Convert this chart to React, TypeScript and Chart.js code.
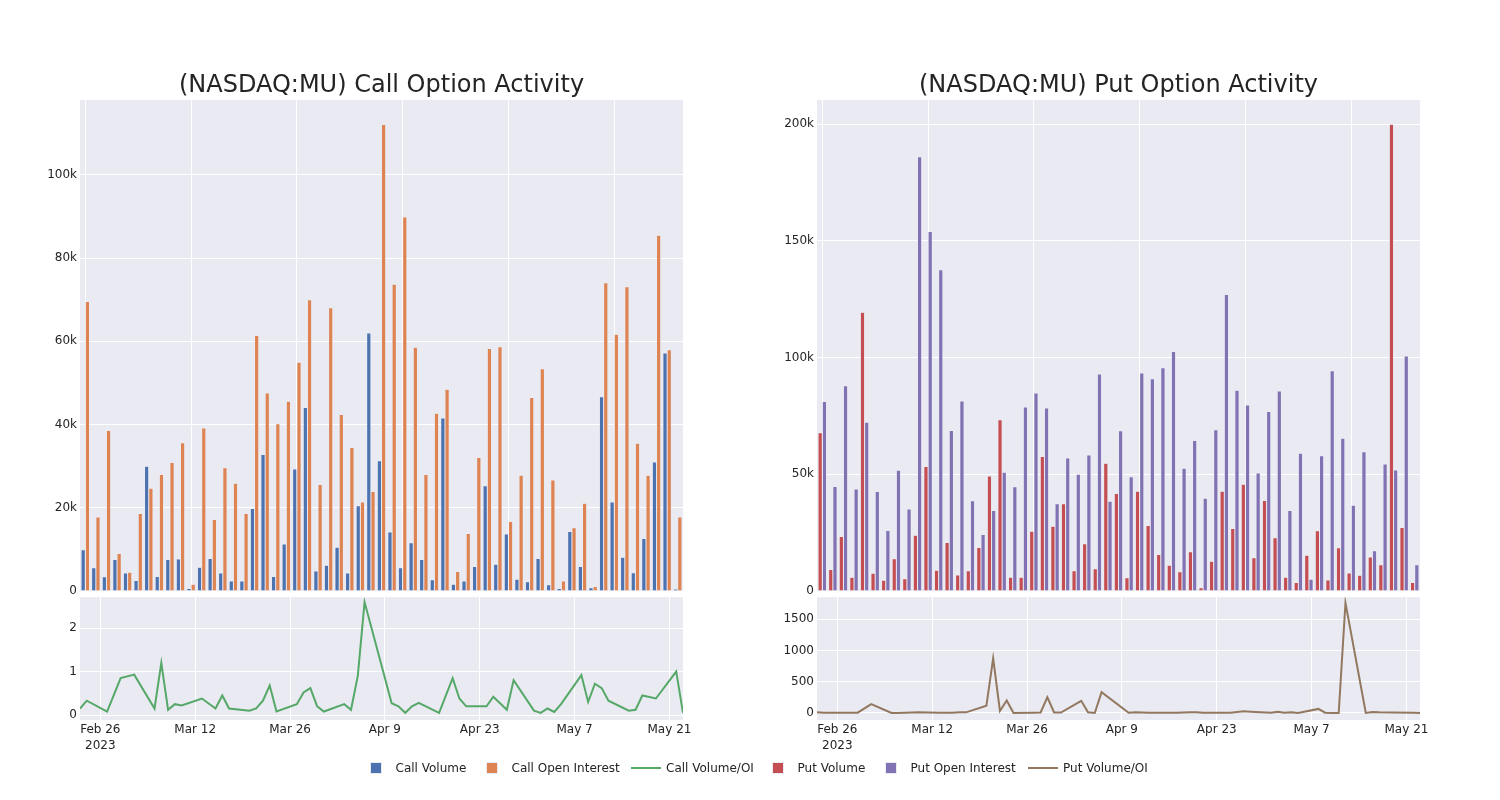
import React, { useEffect, useRef } from "react";
import { Chart, registerables } from "chart.js";

Chart.register(...registerables);

// ---------------- data ----------------
const dates = [
  "2023-02-23", "2023-02-24", "2023-02-27", "2023-03-01", "2023-03-03",
  "2023-03-06", "2023-03-07", "2023-03-08", "2023-03-09", "2023-03-10",
  "2023-03-13", "2023-03-15", "2023-03-16", "2023-03-17", "2023-03-20",
  "2023-03-21", "2023-03-22", "2023-03-23", "2023-03-24", "2023-03-27",
  "2023-03-28", "2023-03-29", "2023-03-30", "2023-03-31", "2023-04-03",
  "2023-04-04", "2023-04-05", "2023-04-06", "2023-04-10", "2023-04-11",
  "2023-04-12", "2023-04-13", "2023-04-14", "2023-04-17", "2023-04-19",
  "2023-04-20", "2023-04-21", "2023-04-24", "2023-04-25", "2023-04-27",
  "2023-04-28", "2023-05-01", "2023-05-02", "2023-05-03", "2023-05-04",
  "2023-05-05", "2023-05-08", "2023-05-09", "2023-05-10", "2023-05-11",
  "2023-05-12", "2023-05-15", "2023-05-16", "2023-05-17", "2023-05-19",
  "2023-05-22", "2023-05-23",
];

const callVolume = [
  9900, 5600, 3400, 7600, 4300, 2500, 30000, 3500, 7600, 7700,
  600, 5700, 7800, 4300, 2400, 2400, 19800, 32800, 3500, 11300,
  29300, 44100, 4800, 6200, 10500, 4300, 20500, 62000, 31300, 14200,
  5600, 11600, 7600, 2700, 41600, 1600, 2400, 5900, 25300, 6400,
  13700, 2800, 2200, 7800, 1500, 600, 14300, 5900, 800, 46700,
  21400, 8100, 4400, 12600, 31000, 57200, 500,
];

const callOpenInterest = [
  69600, 17800, 38600, 9000, 4500, 18600, 24700, 28000, 30900, 35600,
  1600, 39200, 17200, 29600, 25900, 18600, 61400, 47600, 40200, 45600,
  55000, 70000, 25600, 68100, 42400, 34500, 21400, 23900, 112100, 73700,
  89900, 58600, 28000, 42700, 48500, 4700, 13800, 32100, 58300, 58700,
  16700, 27800, 46500, 53400, 26700, 2400, 15200, 21100, 1100, 74100,
  61700, 73100, 35500, 27800, 85500, 58000, 17800,
];

const callVolumeOI = [
  0.15, 0.33, 0.08, 0.85, 0.93, 0.15, 1.2, 0.12, 0.25, 0.22,
  0.38, 0.15, 0.45, 0.15, 0.1, 0.15, 0.33, 0.68, 0.08, 0.25,
  0.52, 0.62, 0.2, 0.08, 0.25, 0.12, 0.9, 2.6, 0.27, 0.2,
  0.05, 0.2, 0.28, 0.05, 0.85, 0.38, 0.2, 0.2, 0.42, 0.12,
  0.8, 0.1, 0.05, 0.15, 0.07, 0.25, 0.92, 0.3, 0.72, 0.62,
  0.33, 0.1, 0.12, 0.45, 0.38, 1.0, 0.05,
];

const putVolume = [
  67800, 9200, 23400, 5900, 119500, 7600, 4600, 13800, 5200, 23900,
  53300, 8900, 20800, 6900, 8700, 18600, 49300, 73400, 5900, 5900,
  25600, 57600, 27700, 37400, 8700, 20300, 9500, 54700, 41800, 5700,
  42700, 28100, 15600, 11000, 8300, 16800, 1400, 12800, 42700, 26800,
  45700, 14300, 38800, 22800, 5900, 3600, 15300, 25800, 4700, 18500,
  7700, 6700, 14600, 11300, 200000, 27200, 3600,
];

const putOpenInterest = [
  81200, 44800, 88000, 43700, 72300, 42600, 25900, 51700, 35100, 186100,
  154000, 137700, 68800, 81400, 38700, 24200, 34500, 50900, 44700, 78800,
  84800, 78400, 37400, 57000, 50000, 58300, 93000, 38500, 68700, 49000,
  93400, 91000, 95700, 102600, 52600, 64500, 39700, 69100, 127100, 86000,
  79700, 50600, 76900, 85700, 34500, 59000, 5000, 58000, 94400, 65500,
  36700, 59700, 17300, 54400, 51900, 100700, 11200,
];

const putVolumeOI = [
  10, 5, 5, 5, 143, 0, 0, 5, 8, 10,
  5, 5, 10, 10, 115, 875, 32, 200, 0, 5,
  8, 252, 8, 8, 195, 12, 0, 332, 5, 10,
  8, 5, 2, 2, 10, 12, 5, 2, 5, 27,
  20, 5, 20, 5, 12, 0, 65, 5, 0, 0,
  1760, 0, 15, 10, 8, 5, 0,
];

const tickDates = ["2023-02-26", "2023-03-12", "2023-03-26", "2023-04-09", "2023-04-23", "2023-05-07", "2023-05-21"];
const tickLabels = [["Feb 26", "2023"], ["Mar 12"], ["Mar 26"], ["Apr 9"], ["Apr 23"], ["May 7"], ["May 21"]];

const callBarTicks = [0, 20000, 40000, 60000, 80000, 100000];
const putBarTicks = [0, 50000, 100000, 150000, 200000];
const callRatioTicks = [0, 1, 2];
const putRatioTicks = [0, 500, 1000, 1500];

const seriesLabels = ["Call Volume", "Call Open Interest", "Call Volume/OI", "Put Volume", "Put Open Interest", "Put Volume/OI"];

// ---------------- styles ----------------
const FONT = "'DejaVu Sans', sans-serif";
const TEXT = "rgb(36,36,36)";
const PLOT_BG = "rgb(234,234,242)";
const COLORS = {
  callVol: "rgb(76,114,176)",
  callOI: "rgb(221,132,82)",
  callRatio: "rgb(85,168,104)",
  putVol: "rgb(196,78,82)",
  putOI: "rgb(129,114,179)",
  putRatio: "rgb(147,120,96)",
};

const plotBackground = {
  id: "plotBackground",
  beforeDraw(chart: any) {
    const { ctx, chartArea } = chart;
    if (!chartArea) return;
    ctx.save();
    ctx.fillStyle = PLOT_BG;
    ctx.fillRect(chartArea.left, chartArea.top, chartArea.right - chartArea.left, chartArea.bottom - chartArea.top);
    ctx.restore();
  },
};

const dayIndex = (d: string) =>
  (Date.parse(d + "T00:00:00Z") - Date.parse(dates[0] + "T00:00:00Z")) / 86400000;

const kLabel = (v: number) => (v === 0 ? "0" : `${v / 1000}k`);

type BarSeries = { label: string; data: number[]; color: string };

function BarPanel(props: {
  left: number; top: number; width: number; height: number;
  title: string; series: BarSeries[]; yMax: number; yTicks: number[];
}) {
  const ref = useRef<HTMLCanvasElement>(null);
  useEffect(() => {
    const chart = new Chart(ref.current as HTMLCanvasElement, {
      type: "bar",
      data: {
        labels: dates,
        datasets: props.series.map((s) => ({
          label: s.label,
          data: s.data,
          backgroundColor: s.color,
          borderColor: PLOT_BG,
          borderWidth: 0.5,
          categoryPercentage: 0.8,
          barPercentage: 1,
        })),
      },
      options: {
        responsive: false,
        animation: false,
        layout: { padding: { top: 0, right: 7, bottom: 19, left: 0 } },
        plugins: {
          legend: { display: false },
          tooltip: { enabled: false },
          title: {
            display: true,
            text: props.title,
            color: TEXT,
            fullSize: false,
            font: { family: FONT, size: 24, weight: "normal" as any },
            padding: { top: 15.2, bottom: 0 },
          },
        },
        scales: {
          x: {
            offset: true,
            grid: {
              offset: false,
              drawTicks: false,
              color: (c: any) => (c.index % 10 === 0 ? "#ffffff" : "rgba(0,0,0,0)"),
            },
            border: { display: false },
            ticks: { display: false },
            afterFit: (s: any) => { s.height = 0; },
          },
          y: {
            min: 0,
            max: props.yMax,
            grid: { color: "#ffffff", drawTicks: false },
            border: { display: false },
            afterBuildTicks: (s: any) => { s.ticks = props.yTicks.map((v) => ({ value: v })); },
            ticks: {
              padding: 3,
              color: TEXT,
              font: { family: FONT, size: 12 },
              callback: (v: any) => kLabel(Number(v)),
            },
            afterFit: (s: any) => { s.width = 60; },
          },
        },
      },
      plugins: [plotBackground],
    });
    return () => chart.destroy();
  }, []);
  return (
    <canvas
      ref={ref}
      width={props.width}
      height={props.height}
      style={{ position: "absolute", left: props.left, top: props.top, width: props.width, height: props.height, display: "block" }}
    />
  );
}

function LinePanel(props: {
  left: number; top: number; width: number; height: number;
  label: string; values: number[]; color: string;
  yMin: number; yMax: number; yTicks: number[];
}) {
  const ref = useRef<HTMLCanvasElement>(null);
  useEffect(() => {
    const tickDays = tickDates.map(dayIndex);
    const chart = new Chart(ref.current as HTMLCanvasElement, {
      type: "line",
      data: {
        datasets: [
          {
            label: props.label,
            data: dates.map((d, i) => ({ x: dayIndex(d), y: props.values[i] })),
            borderColor: props.color,
            backgroundColor: props.color,
            borderWidth: 2,
            pointRadius: 0,
            tension: 0,
            fill: false,
          },
        ],
      },
      options: {
        responsive: false,
        animation: false,
        layout: { padding: { top: 10, right: 17, bottom: 0, left: 0 } },
        plugins: { legend: { display: false }, tooltip: { enabled: false } },
        scales: {
          x: {
            type: "linear",
            min: 0,
            max: dayIndex(dates[dates.length - 1]),
            grid: { color: "#ffffff", drawTicks: false },
            border: { display: false },
            afterBuildTicks: (s: any) => { s.ticks = tickDays.map((v) => ({ value: v })); },
            ticks: {
              autoSkip: false,
              maxRotation: 0,
              padding: 2,
              color: TEXT,
              font: { family: FONT, size: 12, lineHeight: 1.3 },
              callback: (v: any) => {
                const k = tickDays.indexOf(Number(v));
                return k >= 0 ? tickLabels[k] : "";
              },
            },
            afterFit: (s: any) => { s.height = 40; },
          },
          y: {
            min: props.yMin,
            max: props.yMax,
            grid: { color: "#ffffff", drawTicks: false },
            border: { display: false },
            afterBuildTicks: (s: any) => { s.ticks = props.yTicks.map((v) => ({ value: v })); },
            ticks: {
              padding: 3,
              color: TEXT,
              font: { family: FONT, size: 12 },
              callback: (v: any) => String(v),
            },
            afterFit: (s: any) => { s.width = 60; },
          },
        },
      },
      plugins: [plotBackground],
    });
    return () => chart.destroy();
  }, []);
  return (
    <canvas
      ref={ref}
      width={props.width}
      height={props.height}
      style={{ position: "absolute", left: props.left, top: props.top, width: props.width, height: props.height, display: "block" }}
    />
  );
}

function LegendItem(props: { left: number; label: string; color: string; kind: "bar" | "line" }) {
  return (
    <div style={{ position: "absolute", left: props.left, top: 760, height: 16, width: 200 }}>
      {props.kind === "bar" ? (
        <div style={{ position: "absolute", left: 14, top: 2, width: 12, height: 12, background: props.color, boxSizing: "border-box", border: `0.5px solid ${PLOT_BG}` }} />
      ) : (
        <div style={{ position: "absolute", left: 5, top: 7, width: 30, height: 2, background: props.color }} />
      )}
      <div style={{ position: "absolute", left: 40, top: 0, lineHeight: "16px", fontSize: 12, fontFamily: FONT, color: TEXT, whiteSpace: "nowrap" }}>
        {props.label}
      </div>
    </div>
  );
}

export default function App() {
  return (
    <div style={{ position: "absolute", left: 0, top: 0, width: 1500, height: 800, background: "#ffffff", overflow: "hidden" }}>
      <BarPanel
        left={20} top={56} width={670} height={554}
        title="(NASDAQ:MU) Call Option Activity"
        series={[
          { label: seriesLabels[0], data: callVolume, color: COLORS.callVol },
          { label: seriesLabels[1], data: callOpenInterest, color: COLORS.callOI },
        ]}
        yMax={118000} yTicks={callBarTicks}
      />
      <LinePanel
        left={20} top={587} width={680} height={173}
        label={seriesLabels[2]} values={callVolumeOI} color={COLORS.callRatio}
        yMin={-0.115} yMax={2.713} yTicks={callRatioTicks}
      />
      <BarPanel
        left={757} top={56} width={670} height={554}
        title="(NASDAQ:MU) Put Option Activity"
        series={[
          { label: seriesLabels[3], data: putVolume, color: COLORS.putVol },
          { label: seriesLabels[4], data: putOpenInterest, color: COLORS.putOI },
        ]}
        yMax={210400} yTicks={putBarTicks}
      />
      <LinePanel
        left={757} top={587} width={680} height={173}
        label={seriesLabels[5]} values={putVolumeOI} color={COLORS.putRatio}
        yMin={-112} yMax={1851} yTicks={putRatioTicks}
      />
      <LegendItem left={355.5} label={seriesLabels[0]} color={COLORS.callVol} kind="bar" />
      <LegendItem left={471.5} label={seriesLabels[1]} color={COLORS.callOI} kind="bar" />
      <LegendItem left={626} label={seriesLabels[2]} color={COLORS.callRatio} kind="line" />
      <LegendItem left={757.5} label={seriesLabels[3]} color={COLORS.putVol} kind="bar" />
      <LegendItem left={870.5} label={seriesLabels[4]} color={COLORS.putOI} kind="bar" />
      <LegendItem left={1023} label={seriesLabels[5]} color={COLORS.putRatio} kind="line" />
    </div>
  );
}
